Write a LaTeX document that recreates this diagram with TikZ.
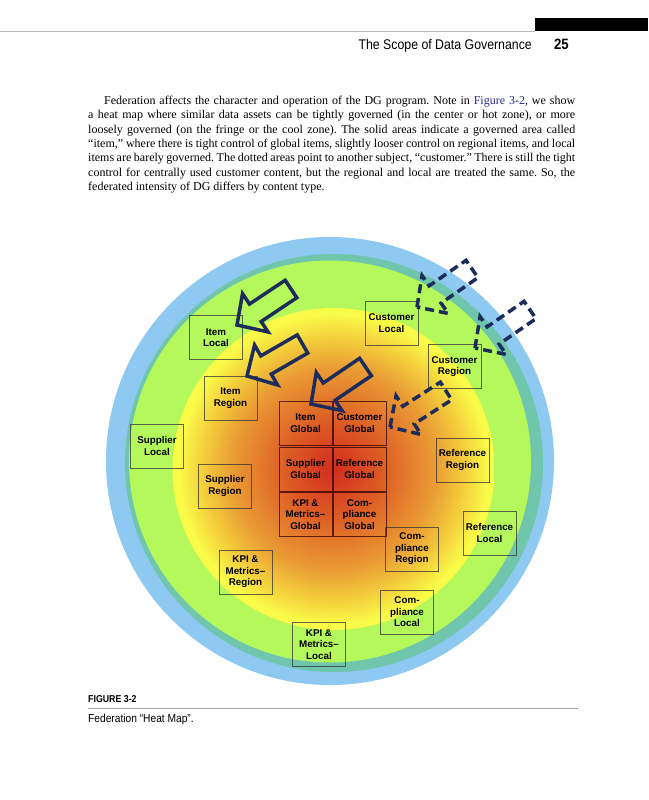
\documentclass[tikz,border=0pt]{standalone}
\usepackage{fontspec}
\setmainfont{Liberation Serif}
\setsansfont{Liberation Sans}
\newfontfamily\condsans[FakeStretch=0.88]{Liberation Sans}
\usetikzlibrary{calc}
\definecolor{ringblue}{RGB}{141,201,240}
\definecolor{ringteal}{RGB}{112,198,172}
\definecolor{zonegreen}{RGB}{180,248,92}
\definecolor{heatY}{RGB}{250,250,72}
\definecolor{heatYO}{RGB}{245,214,62}
\definecolor{heatO}{RGB}{234,158,52}
\definecolor{heatRO}{RGB}{222,96,38}
\definecolor{heatR}{RGB}{210,44,28}
\definecolor{navy}{RGB}{28,45,92}
\definecolor{linkblue}{RGB}{40,40,150}
\pgfdeclareradialshading{heat}{\pgfpointorigin}{color(0bp)=(heatR); color(8bp)=(heatRO); color(16bp)=(heatO); color(21bp)=(heatYO); color(24bp)=(heatY); color(25bp)=(heatY); color(50bp)=(heatY)}
\newcommand{\blkarrow}[3]{%
  \draw[#3] (#1)
   -- ($(#1)!22pt!(#2)!23pt!90:(#2)$)
   -- ($(#1)!22pt!(#2)!10.5pt!90:(#2)$)
   -- ($(#2)!10.5pt!-90:(#1)$)
   -- ($(#2)!10.5pt!90:(#1)$)
   -- ($(#1)!22pt!(#2)!10.5pt!-90:(#2)$)
   -- ($(#1)!22pt!(#2)!23pt!-90:(#2)$)
   -- cycle;}
\begin{document}
\begin{tikzpicture}[x=1pt, y=-1pt,
  tbox/.style={draw=black!80, draw opacity=0.75, line width=0.7pt, minimum width=53pt, minimum height=44pt, inner sep=0pt, align=center, font=\sffamily\bfseries\fontsize{9.8}{11.6}\selectfont},
  gbox/.style={tbox, draw=black!70!red!60!black},
  solidarrow/.style={draw=navy, line width=3.5pt, line join=miter},
  dasharrow/.style={draw=navy, line width=3.5pt, dash pattern=on 9pt off 5pt},
  headtext/.style={inner sep=0pt, font=\condsans\fontsize{14}{16}\selectfont},
]
\useasboundingbox[fill=white] (0,0) rectangle (648,800);
% running head
\fill[black] (535,18) rectangle (648,31);
\draw[gray!55, line width=1.5pt] (0,31.5) -- (535,31.5);
\node[headtext, anchor=base east] (runhead) at (532,49) {The Scope of Data Governance};
\node[headtext, anchor=base east, font=\condsans\bfseries\fontsize{15}{16}\selectfont] (pageno) at (569,49) {25};
% paragraph
\node[anchor=north west, inner sep=0pt, text width=487pt, align=justify, font=\fontsize{12}{14.4}\selectfont] (para) at (88,95.6) {\frenchspacing\hspace*{16pt}Federation affects the character and operation of the DG program. Note in {\color{linkblue}Figure 3-2}, we show\linebreak
a heat map where similar data assets can be tightly governed (in the center or hot zone), or more\linebreak
loosely governed (on the fringe or the cool zone). The solid areas indicate a governed area called\linebreak
“item,” where there is tight control of global items, slightly looser control on regional items, and local\linebreak
items are barely governed. The dotted areas point to another subject, “customer.” There is still the tight\linebreak
control for centrally used customer content, but the regional and local are treated the same. So, the\linebreak
federated intensity of DG differs by content type.};
% heat map rings
\fill[ringblue] (330,461) circle (224pt);
\fill[ringteal] (334,463) circle (209pt);
\fill[zonegreen] (330,461.5) circle (201pt);
\shade[shading=heat] (333.5,469) circle (161pt);
% boxes
\node[tbox] (itemlocal) at (216,337.5) {Item\\Local};
\node[tbox] (itemregion) at (230.5,398) {Item\\Region};
\node[tbox] (custlocal) at (391.5,323) {Customer\\Local};
\node[tbox] (custregion) at (454.5,366.5) {Customer\\Region};
\node[gbox] (itemglobal) at (305.5,423) {Item\\Global};
\node[gbox] (custglobal) at (359.5,423) {Customer\\Global};
\node[gbox] (suppglobal) at (305.5,469) {Supplier\\Global};
\node[gbox] (refglobal) at (359.5,469) {Reference\\Global};
\node[gbox] (kpiglobal) at (305.5,514.5) {KPI \&\\Metrics–\\Global};
\node[gbox] (compglobal) at (359.5,514.5) {Com-\\pliance\\Global};
\node[tbox] (supplocal) at (157,446) {Supplier\\Local};
\node[tbox] (suppregion) at (225,486) {Supplier\\Region};
\node[tbox] (refregion) at (462.5,460) {Reference\\Region};
\node[tbox] (reflocal) at (489.5,533) {Reference\\Local};
\node[tbox] (compregion) at (412,549) {Com-\\pliance\\Region};
\node[tbox] (kpiregion) at (245.5,572) {KPI \&\\Metrics–\\Region};
\node[tbox] (complocal) at (407,612) {Com-\\pliance\\Local};
\node[tbox] (kpilocal) at (319,644.5) {KPI \&\\Metrics–\\Local};
% block arrows
\coordinate (s1tip) at (237,325); \coordinate (s1end) at (291,289);
\coordinate (s2tip) at (247,376); \coordinate (s2end) at (302.5,344);
\coordinate (s3tip) at (311,404); \coordinate (s3end) at (365.5,367);
\coordinate (d1tip) at (417,307); \coordinate (d1end) at (472,269);
\coordinate (d2tip) at (475,348); \coordinate (d2end) at (530,310);
\coordinate (d3tip) at (390,427); \coordinate (d3end) at (446,391);
\blkarrow{s1tip}{s1end}{solidarrow}
\blkarrow{s2tip}{s2end}{solidarrow}
\blkarrow{s3tip}{s3end}{solidarrow}
\blkarrow{d1tip}{d1end}{dasharrow}
\blkarrow{d2tip}{d2end}{dasharrow}
\blkarrow{d3tip}{d3end}{dasharrow}
% caption
\node[anchor=base west, inner sep=0pt, font=\condsans\bfseries\fontsize{10}{12}\selectfont] (figlabel) at (88,702) {FIGURE 3-2};
\draw[gray!70, line width=0.8pt] (88,708.5) -- (578,708.5);
\node[anchor=base west, inner sep=0pt, font=\condsans\fontsize{11.6}{13}\selectfont] (figcaption) at (88,722) {Federation “Heat Map”.};
\end{tikzpicture}
\end{document}
